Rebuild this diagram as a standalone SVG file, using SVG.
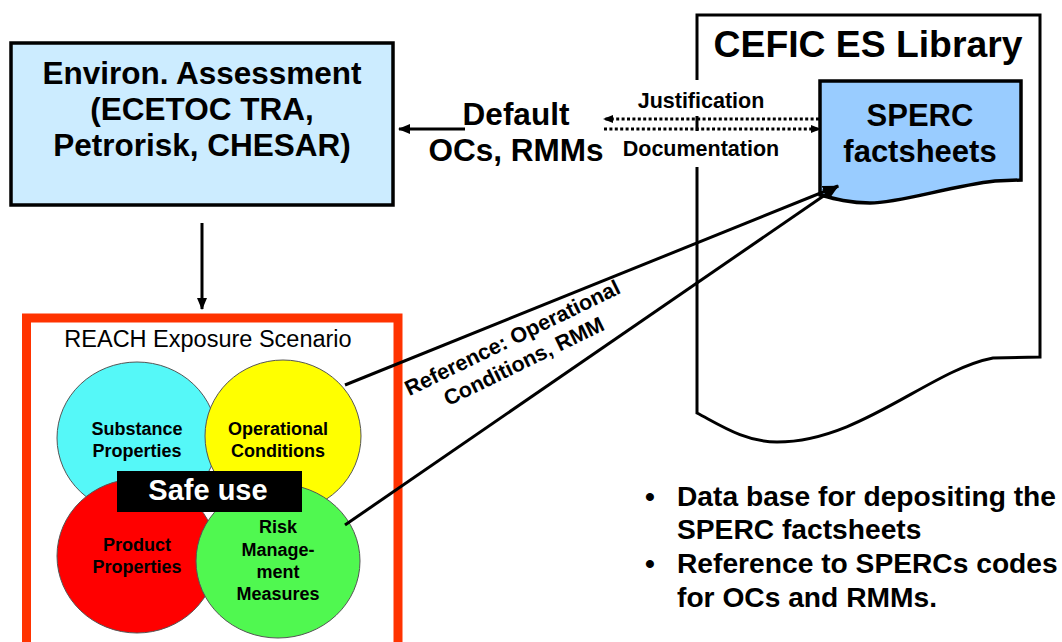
<svg xmlns="http://www.w3.org/2000/svg" width="1062" height="642" viewBox="0 0 1062 642">
<style>
text{font-family:"Liberation Sans",Arial,sans-serif;font-weight:bold;fill:#000}
.big{font-size:31.5px;text-anchor:middle}
.mid{font-size:21.5px;text-anchor:middle}
.lbl{font-size:18px;text-anchor:middle}
.bul{font-size:28.2px}
.ln{stroke:#000;stroke-width:3;fill:none}
.dot{stroke:#000;stroke-width:3;fill:none;stroke-dasharray:3 2.4}
.circ{stroke:#555;stroke-width:1}
</style>
<defs>
<marker id="ah" viewBox="0 0 12 10" refX="11" refY="5" markerWidth="12" markerHeight="10" markerUnits="userSpaceOnUse" orient="auto"><path d="M0,0 L12,5 L0,10 Z" fill="#000"/></marker>
<marker id="ahs" viewBox="0 0 10 8" refX="9" refY="4" markerWidth="10" markerHeight="8" markerUnits="userSpaceOnUse" orient="auto"><path d="M0,0 L10,4 L0,8 Z" fill="#000"/></marker>
<marker id="ahb" viewBox="0 0 16 12" refX="15" refY="6" markerWidth="16" markerHeight="12" markerUnits="userSpaceOnUse" orient="auto"><path d="M0,0 L16,6 L0,12 Z" fill="#000"/></marker>
</defs>
<rect width="1062" height="642" fill="#fff"/>

<g id="library">
<path d="M697,15 H1040 V357 L993,358 C930,370 860,442 777,442 C745,442 720,425 697,413 Z" fill="#fff" stroke="#000" stroke-width="3"/>
<text x="868" y="57" style="font-size:37.3px;text-anchor:middle">CEFIC ES Library</text>
</g>

<g id="sperc">
<path d="M820,81 H1021 V180 L995,181 C950,186 900,203 870,203 C850,203 835,199 820,195 Z" fill="#99CCFF" stroke="#000" stroke-width="3.5"/>
<text x="920" y="126" style="font-size:31px;text-anchor:middle">SPERC</text>
<text x="920" y="162" style="font-size:31px;text-anchor:middle">factsheets</text>
</g>

<g id="environ">
<rect x="11" y="43" width="382" height="162" fill="#CCECFF" stroke="#000" stroke-width="3.5"/>
<text class="big" x="202" y="84">Environ. Assessment</text>
<text class="big" x="202" y="120">(ECETOC TRA,</text>
<text class="big" x="202" y="156">Petrorisk, CHESAR)</text>
</g>

<g id="default-label">
<text class="big" x="516" y="125">Default</text>
<text class="big" x="516" y="161">OCs, RMMs</text>
</g>

<g id="just-doc-labels">
<rect x="612" y="80" width="178" height="36" fill="#fff"/>
<rect x="612" y="131" width="178" height="36" fill="#fff"/>
<text class="mid" x="701" y="108">Justification</text>
<text class="mid" x="701" y="156">Documentation</text>
</g>

<g id="reach">
<rect x="26.5" y="318" width="371.5" height="340" fill="#fff" stroke="#FF3300" stroke-width="9"/>
<text x="208" y="347" style="font-size:23.5px;font-weight:normal;text-anchor:middle">REACH Exposure Scenario</text>
<ellipse class="circ" cx="137" cy="438" rx="80" ry="76" fill="#55F8F8"/>
<ellipse class="circ" cx="283" cy="436" rx="78" ry="76" fill="#FFFF00"/>
<ellipse class="circ" cx="137" cy="556" rx="80" ry="77" fill="#FF0000"/>
<ellipse class="circ" cx="278" cy="561" rx="82" ry="77" fill="#50F850"/>
<text class="lbl" x="137" y="435">Substance</text>
<text class="lbl" x="137" y="457">Properties</text>
<text class="lbl" x="278" y="435">Operational</text>
<text class="lbl" x="278" y="457">Conditions</text>
<text class="lbl" x="137" y="551">Product</text>
<text class="lbl" x="137" y="573">Properties</text>
<text class="lbl" x="278" y="533">Risk</text>
<text class="lbl" x="278" y="556">Manage-</text>
<text class="lbl" x="278" y="578">ment</text>
<text class="lbl" x="278" y="600">Measures</text>
<rect x="117" y="471" width="185" height="41" fill="#000"/>
<text x="208" y="500" style="font-size:29px;fill:#fff;text-anchor:middle">Safe use</text>
</g>

<g id="connectors">
<line class="ln" x1="465" y1="129" x2="399" y2="129" marker-end="url(#ah)"/>
<line class="ln" x1="202" y1="223" x2="202" y2="309" stroke-width="2.5" marker-end="url(#ah)"/>
<line class="dot" x1="819" y1="119" x2="604" y2="119" marker-end="url(#ahs)"/>
<line class="dot" x1="604" y1="129" x2="820" y2="129" marker-end="url(#ahs)"/>
<line class="ln" x1="345" y1="385" x2="838" y2="186" marker-end="url(#ahb)"/>
<line class="ln" x1="345" y1="525" x2="838" y2="186" marker-end="url(#ahb)"/>
</g>

<g id="reference-label" transform="translate(513,339) rotate(-26)">
<text x="0" y="6" style="font-size:21.5px;text-anchor:middle">Reference: Operational</text>
<text x="0" y="32" style="font-size:21.5px;text-anchor:middle">Conditions, RMM</text>
</g>

<g id="bullets">
<text class="bul" x="645" y="506">•</text>
<text class="bul" x="677" y="506">Data base for depositing the</text>
<text class="bul" x="677" y="539">SPERC factsheets</text>
<text class="bul" x="645" y="573">•</text>
<text class="bul" x="677" y="573">Reference to SPERCs codes</text>
<text class="bul" x="677" y="607">for OCs and RMMs.</text>
</g>
</svg>
